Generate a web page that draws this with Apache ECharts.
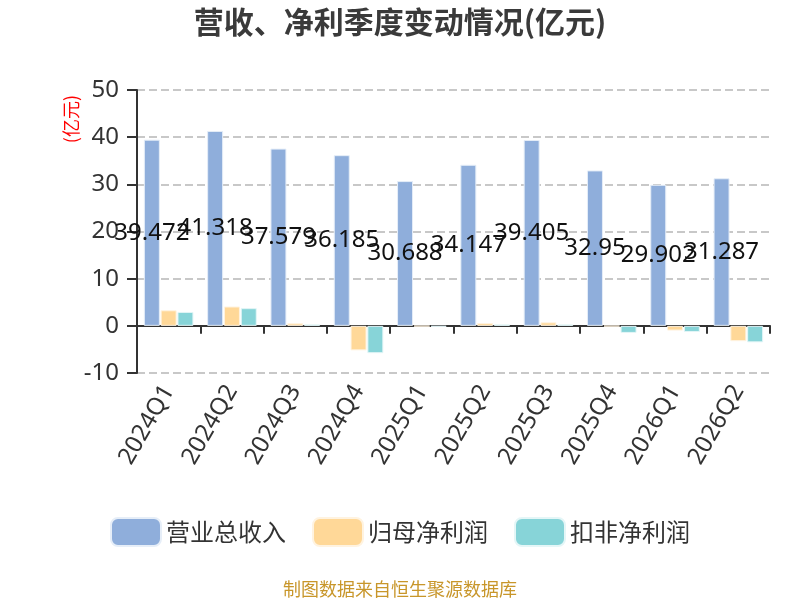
<!DOCTYPE html>
<html>
<head>
<meta charset="utf-8">
<script src="https://cdn.jsdelivr.net/npm/echarts@6/dist/echarts.min.js"></script>
<style>
  html, body { margin: 0; padding: 0; background: #fff; }
  #main { width: 800px; height: 600px; }
</style>
</head>
<body>
<div id="main"></div>
<script>
var myChart1 = echarts.init(document.getElementById('main'));

var quarters = ['2024Q1', '2024Q2', '2024Q3', '2024Q4', '2025Q1', '2025Q2', '2025Q3', '2025Q4', '2026Q1', '2026Q2'];
var revenue = [39.472, 41.318, 37.579, 36.185, 30.688, 34.147, 39.405, 32.95, 29.902, 31.287];
var netProfit = [3.3, 4.1, 0.55, -5.2, -0.1, 0.6, 0.75, -0.1, -1.0, -3.25];
var deductedProfit = [2.95, 3.75, 0.3, -5.8, -0.2, 0.3, 0.3, -1.5, -1.3, -3.5];
var yTicks = { min: -10, max: 50, interval: 10 };

var fontCN = '"Noto Sans CJK SC", "Noto Sans", sans-serif';
var fontNum = '"Noto Sans", "Noto Sans CJK SC", sans-serif';

var option = {
  textStyle: { fontFamily: fontCN },
  title: {
    text: '营收、净利季度变动情况(亿元)',
    left: 'center',
    top: 2,
    textStyle: { fontSize: 30, fontWeight: 'bold', color: '#3a3a3a', fontFamily: fontCN }
  },
  legend: {
    bottom: 48,
    left: 'center',
    itemWidth: 50,
    itemHeight: 28,
    itemGap: 26,
    textStyle: { fontSize: 24, color: '#333', fontFamily: fontCN },
    data: ['营业总收入', '归母净利润', '扣非净利润']
  },
  graphic: [
    {
      type: 'text',
      left: 62,
      top: 95,
      rotation: Math.PI / 2,
      style: { text: '(亿元)', fill: '#ff0000', font: '18px ' + fontCN }
    },
    {
      type: 'text',
      left: 'center',
      bottom: 2,
      style: { text: '制图数据来自恒生聚源数据库', fill: '#c8962a', font: '18px ' + fontCN }
    }
  ],
  grid: { left: 137, right: 30, top: 90, bottom: 227 },
  xAxis: [
    {
      type: 'category',
      data: quarters,
      axisLine: { onZero: true, lineStyle: { color: '#333', width: 2 } },
      axisTick: { show: true, length: 8, lineStyle: { color: '#333', width: 2 } },
      axisLabel: { show: false }
    },
    {
      type: 'category',
      data: quarters,
      position: 'bottom',
      axisLine: { show: false, onZero: false },
      axisTick: { show: false },
      axisLabel: { rotate: 60, fontSize: 24, color: '#333', margin: 14, fontFamily: fontNum }
    }
  ],
  yAxis: {
    type: 'value',
    min: yTicks.min,
    max: yTicks.max,
    interval: yTicks.interval,
    axisLine: { show: true, lineStyle: { color: '#333', width: 2 } },
    axisTick: { show: true, length: 10, lineStyle: { color: '#333', width: 2 } },
    axisLabel: { fontSize: 24, color: '#333', margin: 18, fontFamily: fontNum },
    splitLine: { lineStyle: { type: 'dashed', color: '#c8c8c8', width: 2 } }
  },
  series: [
    {
      name: '营业总收入',
      type: 'bar',
      data: revenue,
      barWidth: 16,
      barGap: '5%',
      itemStyle: { color: '#8FAEDB', borderColor: '#e6eef8', borderWidth: 1 },
      label: { show: true, position: 'inside', fontSize: 24, color: '#111', fontFamily: fontNum }
    },
    {
      name: '归母净利润',
      type: 'bar',
      data: netProfit,
      barWidth: 16,
      barGap: '5%',
      itemStyle: { color: '#FFD898', borderColor: '#fff3e0', borderWidth: 1 }
    },
    {
      name: '扣非净利润',
      type: 'bar',
      data: deductedProfit,
      barWidth: 16,
      barGap: '5%',
      itemStyle: { color: '#87D4D8', borderColor: '#e4f6f7', borderWidth: 1 }
    }
  ]
};
myChart1.setOption(option);
</script>
</body>
</html>
